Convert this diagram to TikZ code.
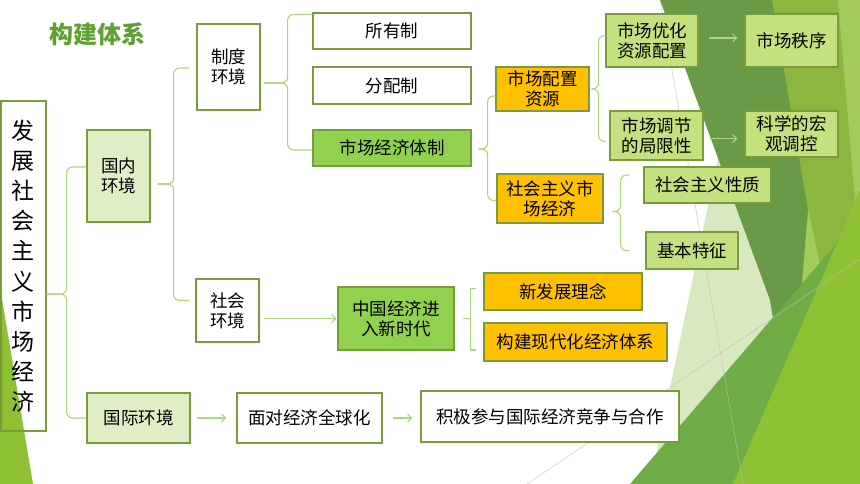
\documentclass[tikz,border=0pt]{standalone}
\usepackage{fontspec}
\setmainfont{Noto Sans CJK SC}
\usetikzlibrary{arrows.meta,calc}

\definecolor{edgegreen}{HTML}{7A9A3E}
\definecolor{linkgreen}{HTML}{B0D57F}
\definecolor{leafgreen}{HTML}{92D050}
\definecolor{palegreen}{HTML}{C4E17F}
\definecolor{dotgreen}{HTML}{E0EEC6}
\definecolor{amber}{HTML}{FFC000}
\definecolor{titlegreen}{HTML}{5DA130}
% background facets
\definecolor{facetdark}{HTML}{6A9A48}
\definecolor{facetolive}{HTML}{8CB73E}
\definecolor{facetlight}{HTML}{A3CB5C}
\definecolor{facetmid}{HTML}{70AC46}
\definecolor{facetlime}{HTML}{8EC133}
\definecolor{facetpale}{HTML}{D8E9C2}

\tikzset{
  box/.style={draw=edgegreen, line width=1.2pt, inner sep=0pt, align=center,
    font=\fontsize{17.5}{20}\selectfont},
  brc/.style={draw=linkgreen, line width=1.1pt, rounded corners=6pt},
  bkt/.style={draw=linkgreen, line width=1.1pt},
  arr/.style={draw=linkgreen, line width=1.1pt, -{Straight Barb[length=4pt,width=8pt]}},
  facetline/.style={draw=black!25, line width=0.6pt, opacity=0.7},
}

\begin{document}
\begin{tikzpicture}[x=1pt,y=-1pt]
			\useasboundingbox (0,0) rectangle (860,484);
			\fill[white] (0,0) rectangle (860,484);
			% background
			\fill[facetpale] (730,100) -- (650,484) -- (800,484) -- (800,300) -- cycle;
			\fill[facetolive] (772,0) -- (860,0) -- (860,484) -- (790,484) -- cycle;
			\fill[facetlight] (838,0) -- (860,0) -- (860,260) -- cycle;
			\fill[facetlight] (806,200) -- (832,320) -- (796,400) -- cycle;
			\fill[facetdark] (660,0) -- (772,0) -- (808,210) -- (790,425) -- (770,300) -- cycle;
			\fill[facetmid] (630,484) -- (860,216) -- (860,484) -- cycle;
			\fill[facetlime] (733,484) -- (860,190) -- (860,484) -- cycle;
			\fill[facetlime] (0,287) -- (33,484) -- (0,484) -- cycle;
			\draw[facetline] (660,0) -- (743,484);
			\draw[facetline] (527,484) -- (860,259);
			\node[font=\fontsize{24}{28}\selectfont\bfseries, text=titlegreen] (title) at (97,34) {构建体系};
			% boxes
			\node[box, minimum width=45, minimum height=330, font=\fontsize{23}{30.2}\selectfont] (dev) at (23.5,266) {发\\展\\社\\会\\主\\义\\市\\场\\经\\济};
			\node[box, fill=dotgreen, minimum width=63, minimum height=92] (dom) at (118.5,176) {国内\\环境};
			\node[box, fill=dotgreen, minimum width=103, minimum height=50] (intl) at (138.5,418) {国际环境};
			\node[box, fill=white, minimum width=63, minimum height=86] (sys) at (228.5,67) {制度\\环境};
			\node[box, fill=white, minimum width=63, minimum height=63] (soc) at (227.5,310.5) {社会\\环境};
			\node[box, fill=white, minimum width=158, minimum height=36] (own) at (392,31) {所有制};
			\node[box, fill=white, minimum width=158, minimum height=37] (dist) at (392,85.5) {分配制};
			\node[box, fill=leafgreen, minimum width=158, minimum height=36] (mkt) at (392,148) {市场经济体制};
			\node[box, fill=amber, minimum width=93, minimum height=44] (alloc) at (542.5,89) {市场配置\\资源};
			\node[box, fill=amber, minimum width=106, minimum height=49] (smkt) at (550,198.5) {社会主义市\\场经济};
			\node[box, fill=palegreen, minimum width=92, minimum height=53] (opt) at (652,40.5) {市场优化\\资源配置};
			\node[box, fill=palegreen, minimum width=93, minimum height=53] (order) at (791.5,40.5) {市场秩序};
			\node[box, fill=palegreen, minimum width=93, minimum height=49] (lim) at (656.5,135.5) {市场调节\\的局限性};
			\node[box, fill=palegreen, minimum width=93, minimum height=46] (macro) at (791.5,134) {科学的宏\\观调控};
			\node[box, fill=palegreen, minimum width=127, minimum height=36] (nat) at (707.5,185) {社会主义性质};
			\node[box, fill=palegreen, minimum width=92, minimum height=37] (feat) at (692,250.5) {基本特征};
			\node[box, fill=leafgreen, minimum width=116, minimum height=63] (era) at (396,318.5) {中国经济进\\入新时代};
			\node[box, fill=amber, minimum width=158, minimum height=37] (idea) at (563,291.5) {新发展理念};
			\node[box, fill=amber, minimum width=183, minimum height=38] (modern) at (575.5,342) {构建现代化经济体系};
			\node[box, fill=white, minimum width=145, minimum height=50] (glob) at (309.5,418) {面对经济全球化};
			\node[box, fill=white, minimum width=258, minimum height=51] (coop) at (550,416.5) {积极参与国际经济竞争与合作};
			% braces
			\draw[brc] ($(dev.east)+(0,28)$) -- ++(20,0) |- ($(dom.west)+(0,-9)$);
			\draw[brc] ($(dev.east)+(0,28)$) -- ++(20,0) |- (intl.west);
			\draw[brc] ($(dom.east)+(7,8)$) -- ++(16,0) |- ($(sys.west)+(-7,1)$);
			\draw[brc] ($(dom.east)+(7,8)$) -- ++(16,0) |- ($(soc.west)+(-6,-10)$);
			\draw[brc] ($(sys.east)+(3,16)$) -- ++(24,0) |- ($(own.north west)+(0,2)$);
			\draw[brc] ($(sys.east)+(3,16)$) -- ++(24,0) |- ($(mkt.west)+(0,2)$);
			\draw[brc] ($(mkt.east)+(7,1)$) -- ++(9,0) |- ($(alloc.west)+(0,7)$);
			\draw[brc] ($(mkt.east)+(7,1)$) -- ++(9,0) |- ($(smkt.west)+(0,2)$);
			\draw[brc] ($(alloc.east)+(2,0)$) -- ++(7,0) |- ($(opt.west)+(0,-5)$);
			\draw[brc] ($(alloc.east)+(2,0)$) -- ++(7,0) |- ($(lim.west)+(-4,6)$);
			\draw[brc] ($(smkt.east)+(9,13)$) -- ++(8,0) |- ($(nat.west)+(-14,-10)$);
			\draw[brc] ($(smkt.east)+(9,13)$) -- ++(8,0) |- ($(feat.west)+(-16,0)$);
			\draw[bkt] ($(era.east)+(8,0)$) -- ++(8,0) |- ($(idea.west)+(-7,-3)$);
			\draw[bkt] ($(era.east)+(8,0)$) -- ++(8,0) |- ($(modern.west)+(-7,8)$);
			% arrows
			\draw[arr, shorten <=4pt, shorten >=1pt] (soc.east |- era.west) -- (era.west);
			\draw[arr, shorten <=10pt, shorten >=7pt] ($(opt.east)+(0,-2.5)$) -- ($(order.west)+(0,-2.5)$);
			\draw[arr, shorten <=5pt, shorten >=7pt] ($(lim.east)+(0,3)$) -- ($(macro.west)+(0,4.5)$);
			\draw[arr, shorten <=6pt, shorten >=10pt] (intl.east) -- (glob.west);
			\draw[arr, shorten <=10pt, shorten >=8pt] (glob.east) -- (glob.east -| coop.west);
\end{tikzpicture}
\end{document}
